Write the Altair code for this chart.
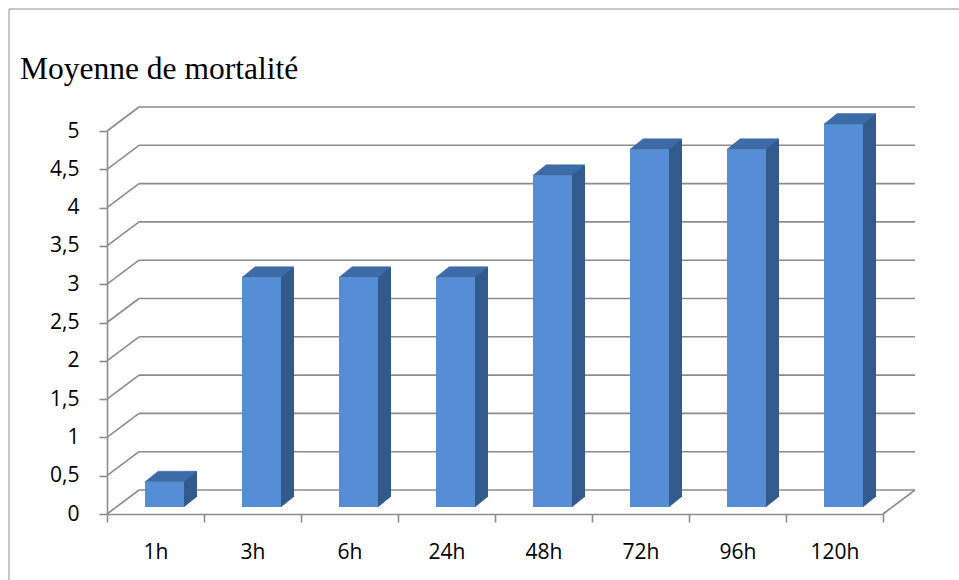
import altair as alt
import pandas as pd

categories = ["1h", "3h", "6h", "24h", "48h", "72h", "96h", "120h"]
values = [0.33, 3.0, 3.0, 3.0, 4.33, 4.67, 4.67, 5.0]
y_ticks = [0, 0.5, 1, 1.5, 2, 2.5, 3, 3.5, 4, 4.5, 5]
title_text = "Moyenne de mortalité"

bars = pd.DataFrame({"cat": categories, "val": values})
ticks = pd.DataFrame({"v": y_ticks})

W, H = 776, 383
DX, DY = 32, -24          # depth of the 3D box (pixels)
GRID = "#8c8c8c"
FRONT, TOP, SIDE = "#558ed5", "#3d6ba8", "#325a8c"

xscale = alt.Scale(domain=categories, paddingInner=0, paddingOuter=0)
yscale = alt.Scale(domain=[0, 5], nice=False)

x_axis = alt.Axis(title=None, tickBand="extent", labelAngle=0,
                  domainColor=GRID, domainWidth=1.6, tickColor=GRID,
                  tickWidth=1.6, tickSize=8, labelFont="Open Sans",
                  labelFontSize=21, labelColor="#000000", labelPadding=19)
y_axis = alt.Axis(title=None, values=y_ticks, grid=False, labelOverlap=False,
                  labelSeparation=0,
                  labelExpr="replace(toString(datum.value), '.', ',')",
                  domainColor=GRID, domainWidth=1.6, tickColor=GRID,
                  tickWidth=1.6, tickSize=8, labelFont="Open Sans",
                  labelFontSize=21, labelColor="#000000", labelPadding=20)

def X():
    return alt.X("cat:N", scale=xscale, sort=categories, axis=x_axis)

def Y(field):
    return alt.Y(field, scale=yscale, axis=y_axis)

base = alt.Chart(bars)

back_grid = alt.Chart(ticks).mark_rule(color=GRID, strokeWidth=1.6, yOffset=DY).encode(
    x=alt.value(DX), x2=alt.value(W + DX), y=Y("v:Q"),
)
side_grid = alt.Chart(ticks).mark_rule(color=GRID, strokeWidth=1.6, y2Offset=DY).encode(
    x=alt.value(0), x2=alt.value(DX), y=Y("v:Q"), y2="v:Q",
)
floor_edge = alt.Chart(ticks).transform_filter("datum.v == 0").mark_rule(
    color=GRID, strokeWidth=1.6, y2Offset=DY).encode(
    x=alt.value(W), x2=alt.value(W + DX), y=Y("v:Q"), y2="v:Q",
)

side = base.mark_bar(color=SIDE, width=13, xOffset=35, yOffset=-17, y2Offset=-17).encode(
    x=X(), y=Y("val:Q"), y2=alt.datum(0),
)
side_bottom = base.transform_calculate(zero="0").mark_point(
    shape="M28.4,-7 L28.4,-17.5 L41.4,-17.5 Z", size=4, filled=True,
    fill=SIDE, stroke=SIDE, strokeWidth=0.5, opacity=1).encode(
    x=X(), y=Y("zero:Q"),
)
top = base.mark_point(
    shape="M-10.4,-7 L28.4,-7 L41.4,-17.5 L2.6,-17.5 Z", size=4, filled=True,
    fill=TOP, stroke=TOP, strokeWidth=0.5, opacity=1).encode(
    x=X(), y=Y("val:Q"),
)
front = base.mark_bar(color=FRONT, width=39, xOffset=9, yOffset=-7, y2Offset=-7).encode(
    x=X(), y=Y("val:Q"), y2=alt.datum(0),
)

title = alt.Chart(pd.DataFrame({"t": [title_text]})).mark_text(
    font="Liberation Serif", fontSize=31.5, align="left", baseline="alphabetic",
    color="#000000").encode(
    text="t:N", x=alt.value(-87), y=alt.value(-52),
)

frame_top = alt.Chart(pd.DataFrame({"a": [0]})).mark_rule(color="#8f8f8f", strokeWidth=1).encode(
    x=alt.value(-98), x2=alt.value(900), y=alt.value(-122))
frame_left = alt.Chart(pd.DataFrame({"a": [0]})).mark_rule(color="#8f8f8f", strokeWidth=1).encode(
    x=alt.value(-98), y=alt.value(-122), y2=alt.value(500))

chart = alt.layer(
    frame_top, frame_left, back_grid, side_grid, floor_edge,
    side, side_bottom, front, top, title,
).properties(
    width=W, height=H,
    autosize=alt.AutoSizeParams(type="none"),
    padding={"left": 107, "top": 131, "right": 959 - 107 - W, "bottom": 580 - 131 - H},
    background="white",
).configure_view(strokeWidth=0).configure_axis(labelOverlap=False)

chart.save("out.html", embed_options={"renderer": "svg", "actions": False})
